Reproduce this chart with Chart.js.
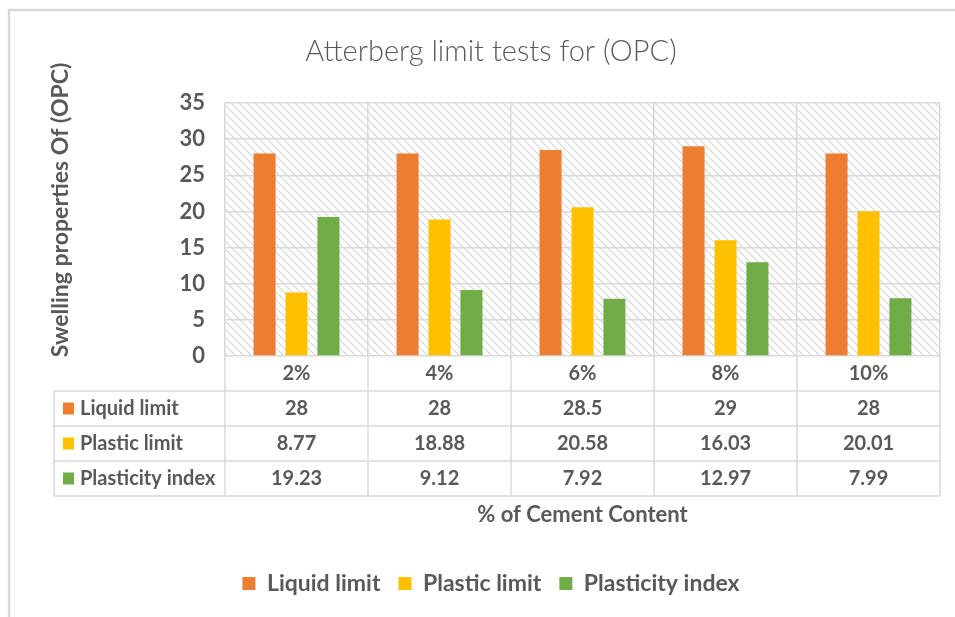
<!DOCTYPE html>
<html>
<head>
<meta charset="utf-8">
<script src="https://cdn.jsdelivr.net/npm/chart.js@4.4.0/dist/chart.umd.min.js"></script>
<style>
  html, body { margin: 0; padding: 0; background: #fff; }
  #wrap { width: 955px; height: 617px; }
</style>
</head>
<body>
<div id="wrap"><canvas id="chart" width="955" height="617"></canvas></div>
<script>
const categories = ["2%", "4%", "6%", "8%", "10%"];
const seriesNames = ["Liquid limit", "Plastic limit", "Plasticity index"];
const liquidLimit = [28, 28, 28.5, 29, 28];
const plasticLimit = [8.77, 18.88, 20.58, 16.03, 20.01];
const plasticityIndex = [19.23, 9.12, 7.92, 12.97, 7.99];
const seriesColors = ["#ED7D31", "#FFC000", "#70AD47"];
const yTitle = "Swelling properties Of (OPC)";

const textColor = "#595959";
const gridColor = "#d9d9d9";
const fontFamily = "Lato, 'Open Sans', sans-serif";

// diagonal hatch used for the plot background
function makeHatch() {
  const c = document.createElement("canvas");
  c.width = 8;
  c.height = 8;
  const g = c.getContext("2d");
  g.strokeStyle = "#d6d6d6";
  g.lineWidth = 1.2;
  g.beginPath();
  g.moveTo(-1, -1); g.lineTo(9, 9);
  g.moveTo(-1, 7); g.lineTo(1, 9);
  g.moveTo(7, -1); g.lineTo(9, 1);
  g.stroke();
  return g.createPattern(c, "repeat");
}

const backdrop = {
  id: "backdrop",
  beforeDraw(chart) {
    const { ctx, chartArea: ca } = chart;
    ctx.save();
    ctx.fillStyle = "#fff";
    ctx.fillRect(0, 0, chart.width, chart.height);
    // outer frame (top and left edges visible)
    ctx.strokeStyle = gridColor;
    ctx.lineWidth = 2.5;
    ctx.beginPath();
    ctx.moveTo(9, chart.height);
    ctx.lineTo(9, 10);
    ctx.lineTo(chart.width, 10);
    ctx.stroke();
    ctx.fillStyle = makeHatch();
    ctx.fillRect(ca.left, ca.top, ca.right - ca.left, ca.bottom - ca.top);
    ctx.restore();
  }
};

const dataTable = {
  id: "dataTable",
  afterDraw(chart) {
    const { ctx, chartArea: ca, scales } = chart;
    const x = scales.x;
    const n = categories.length;
    const colW = (ca.right - ca.left) / n;
    const rowH = 35;
    const top = ca.bottom;
    const tableLeft = 54;
    const rows = [liquidLimit, plasticLimit, plasticityIndex];

    ctx.save();
    ctx.strokeStyle = gridColor;
    ctx.lineWidth = 1.5;
    ctx.beginPath();
    for (let r = 1; r <= 4; r++) {
      const y = top + r * rowH;
      ctx.moveTo(tableLeft, y);
      ctx.lineTo(ca.right, y);
    }
    for (let i = 0; i <= n; i++) {
      const xx = ca.left + i * colW;
      ctx.moveTo(xx, top);
      ctx.lineTo(xx, top + 4 * rowH);
    }
    ctx.moveTo(tableLeft, top + rowH);
    ctx.lineTo(tableLeft, top + 4 * rowH);
    ctx.stroke();

    ctx.fillStyle = textColor;
    ctx.font = "bold 20px " + fontFamily;
    ctx.textAlign = "center";
    ctx.textBaseline = "middle";
    categories.forEach((cat, i) => {
      ctx.fillText(cat, x.getPixelForValue(i), top + rowH / 2);
    });
    rows.forEach((vals, r) => {
      const cy = top + (r + 1.5) * rowH;
      vals.forEach((v, i) => {
        ctx.fillStyle = textColor;
        ctx.textAlign = "center";
        ctx.fillText(String(v), x.getPixelForValue(i), cy);
      });
      ctx.fillStyle = seriesColors[r];
      ctx.fillRect(63, cy - 6, 11, 12);
      ctx.fillStyle = textColor;
      ctx.textAlign = "left";
      ctx.fillText(seriesNames[r], 80, cy);
    });

    // y axis title, placed as in the original (a bit above the plot centre)
    ctx.translate(61, 210);
    ctx.rotate(-Math.PI / 2);
    ctx.textAlign = "center";
    ctx.font = "bold 23px " + fontFamily;
    ctx.fillText(yTitle, 0, 0);
    ctx.restore();
  }
};

new Chart(document.getElementById("chart"), {
  type: "bar",
  data: {
    labels: categories,
    datasets: [
      { label: seriesNames[0], data: liquidLimit, backgroundColor: seriesColors[0] },
      { label: seriesNames[1], data: plasticLimit, backgroundColor: seriesColors[1] },
      { label: seriesNames[2], data: plasticityIndex, backgroundColor: seriesColors[2] }
    ]
  },
  options: {
    responsive: false,
    animation: false,
    events: [],
    datasets: {
      bar: { categoryPercentage: 0.67, barPercentage: 0.69 }
    },
    layout: { padding: { left: 42, right: 15, top: 0, bottom: 12 } },
    plugins: {
      title: {
        display: true,
        text: "Atterberg limit tests for (OPC)",
        color: textColor,
        font: { family: fontFamily, size: 29, weight: "300" },
        padding: { top: 34, bottom: 34.2 }
      },
      legend: {
        position: "bottom",
        labels: {
          color: textColor,
          font: { family: fontFamily, size: 23, weight: "bold" },
          boxWidth: 13,
          boxHeight: 13,
          padding: 18
        }
      },
      tooltip: { enabled: false }
    },
    scales: {
      x: {
        grid: { color: gridColor, lineWidth: 1.5, drawTicks: false },
        border: { display: false },
        ticks: { display: false },
        title: {
          display: true,
          text: "% of Cement Content",
          color: textColor,
          font: { family: fontFamily, size: 22, weight: "bold" },
          padding: { top: 0, bottom: 25.6 }
        },
        afterFit(axis) { axis.height = 198; }
      },
      y: {
        min: 0,
        max: 35,
        ticks: {
          stepSize: 5,
          color: textColor,
          font: { family: fontFamily, size: 22, weight: "bold" },
          padding: 20
        },
        grid: { color: gridColor, lineWidth: 1.5, drawTicks: false },
        border: { display: false },
        title: { display: false },
        afterFit(axis) { axis.width = 183; }
      }
    }
  },
  plugins: [backdrop, dataTable]
});
</script>
</body>
</html>
